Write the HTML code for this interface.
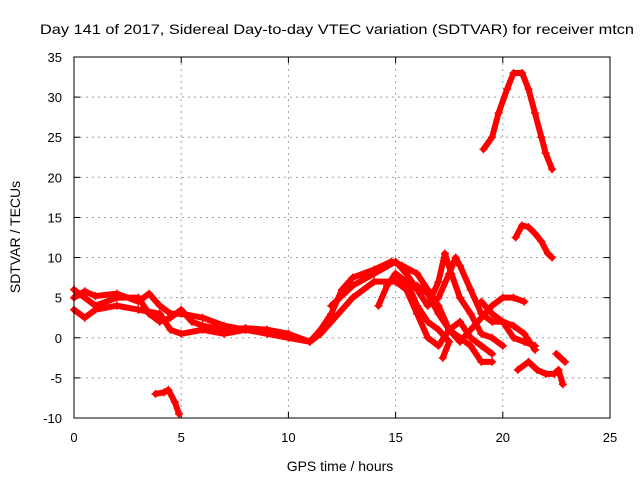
<!DOCTYPE html>
<html><head><meta charset="utf-8"><style>
body{margin:0;background:#fff;}
svg{display:block;font-family:"Liberation Sans",sans-serif;}
</style></head><body>
<svg id="chart" width="640" height="480" xmlns="http://www.w3.org/2000/svg">
<rect width="640" height="480" fill="#fff"/>
<text x="40" y="34" font-size="14" textLength="594" lengthAdjust="spacingAndGlyphs">Day 141 of 2017, Sidereal Day-to-day VTEC variation (SDTVAR) for receiver mtcn</text>
<text x="340" y="471" font-size="14" text-anchor="middle">GPS time / hours</text>
<text transform="translate(20,237) rotate(-90)" font-size="14" text-anchor="middle">SDTVAR / TECUs</text>
<g id="grid"></g><g id="ticks"></g><g id="marks"></g>
<rect x="74" y="57" width="536" height="361" fill="none" stroke="#000" stroke-width="1"/>
</svg>
<script>
const xTicks=[0,5,10,15,20,25];
const yTicks=[-10,-5,0,5,10,15,20,25,30,35];
const trackArc=[[19.1,23.5],[19.5,25],[19.8,28],[20.2,31],[20.5,33],[20.9,33],[21.2,31],[21.5,28],[21.8,25],[22.0,23],[22.3,21]];
const trackMid=[[20.6,12.5],[20.9,14],[21.2,13.8],[21.5,13],[21.8,12],[22.1,10.5],[22.3,10]];
const trackLowLeft=[[3.8,-7],[4.2,-6.8],[4.4,-6.5],[4.7,-8],[4.9,-9.5]];
const trackLowRight=[[20.7,-4],[21.2,-3],[21.6,-4],[22,-4.5],[22.4,-4.5],[22.6,-4],[22.8,-5.8]];
const trackLowRight2=[[22.5,-2],[22.9,-3]];
const trackE=[[0,5],[0.5,5.8],[1,5.2],[2,5.5],[3,4.5],[3.5,5.5],[4,4],[4.5,3],[5,3],[6,2.5],[7,1.5],[8,1],[9,1],[10,0.5],[11,-0.5],[11.5,1],[12,3],[12.5,6],[13,7.5],[14,8.5],[14.8,9.5],[15.3,9],[16,8],[16.5,6],[17,4],[17.5,1],[18,0],[18.5,-1],[19,-3],[19.5,-3]];
const trackF=[[0,3.5],[0.5,2.5],[1,3.5],[2,4],[3,3.5],[4,3],[4.5,1],[5,0.5],[6,1],[7,0.5],[8,1],[9,0.5],[10,0],[11,-0.5],[11.5,0.5],[12,2],[13,5],[14,7],[15,7],[15.5,6],[16,3],[16.5,0],[17,-1],[17.5,1],[18,2],[18.5,0],[19,-1],[19.5,-2]];
const trackG=[[0,6],[1,4],[2,5],[3,5],[3.5,3],[4,2],[4.5,2.5],[5,3.5],[5.5,2],[6,1.5],[7,1],[8,1.2],[9,1],[10,0.5]];
const trackH=[[12,4],[13,6.5],[14,8],[15,9.5],[15.5,8],[16,6],[16.5,4],[17,5],[17.5,8],[17.8,10],[18,9],[18.5,6],[19,3],[19.5,2],[20,2],[20.5,1.5],[21,0.5],[21.5,-1.5]];
const trackI=[[15,8],[15.5,7],[16,6.5],[16.5,5.5],[17,3],[17.5,1],[18,-0.5],[18.5,1],[19,2.5],[19.5,4],[20,5],[20.5,5],[21,4.5]];
const trackJ=[[14.2,4],[14.6,6.5],[15,8],[15.6,6.5],[16,4],[16.5,2],[17,1],[17.5,-0.5],[17.2,-2.5]];
const trackK=[[16.5,4],[17,7],[17.3,10.5],[17.6,8],[18,5],[18.5,3],[19,0.5],[19.5,0],[20,-1]];
const trackL=[[19,4.5],[19.5,3],[20,2],[20.5,0],[21,-0.5],[21.5,-1]];
const tracks=[trackArc,trackMid,trackLowLeft,trackLowRight,trackLowRight2,trackE,trackF,trackG,trackH,trackI,trackJ,trackK,trackL];
const X=v=>74+v*(536/25);
const Y=v=>418-(v+10)*(361/45);
const NS="http://www.w3.org/2000/svg";
const grid=document.getElementById('grid'),ticks=document.getElementById('ticks'),marks=document.getElementById('marks');
function mk(t,a,p){const e=document.createElementNS(NS,t);for(const k in a)e.setAttribute(k,a[k]);p.appendChild(e);return e;}
xTicks.forEach(v=>{
 if(v>0&&v<25){const g=mk('line',{x1:X(v),x2:X(v),y1:57,y2:418,stroke:'#a0a0a0','stroke-dasharray':'2,4'},grid);
 
 }
 mk('line',{x1:X(v),x2:X(v),y1:418,y2:412,stroke:'#000'},ticks);
 mk('line',{x1:X(v),x2:X(v),y1:57,y2:63,stroke:'#000'},ticks);
 const t=mk('text',{x:X(v),y:442,'font-size':13,'text-anchor':'middle'},ticks);t.textContent=v;
 
 
});
yTicks.forEach(v=>{
 if(v>-10&&v<35){const g=mk('line',{x1:74,x2:610,y1:Y(v),y2:Y(v),stroke:'#a0a0a0','stroke-dasharray':'2,4'},grid);
 
 }
 mk('line',{x1:74,x2:80,y1:Y(v),y2:Y(v),stroke:'#000'},ticks);
 mk('line',{x1:604,x2:610,y1:Y(v),y2:Y(v),stroke:'#000'},ticks);
 const t=mk('text',{x:62,y:Y(v)+5,'font-size':13,'text-anchor':'end'},ticks);t.textContent=v;
 
 
});
tracks.forEach((tr,i)=>{
 const p=mk('polyline',{points:tr.map(d=>X(d[0])+','+Y(d[1])).join(' '),fill:'none',stroke:'#ff0000','stroke-width':6,'stroke-linejoin':'round','stroke-linecap':'round'},marks);
 
 
 tr.forEach(d=>{
  const m=mk('path',{d:`M${X(d[0])-4},${Y(d[1])}h8M${X(d[0])},${Y(d[1])-4}v8`,stroke:'#ff0000','stroke-width':1.5},marks);
  
  
 });
});
</script>
</body></html>
